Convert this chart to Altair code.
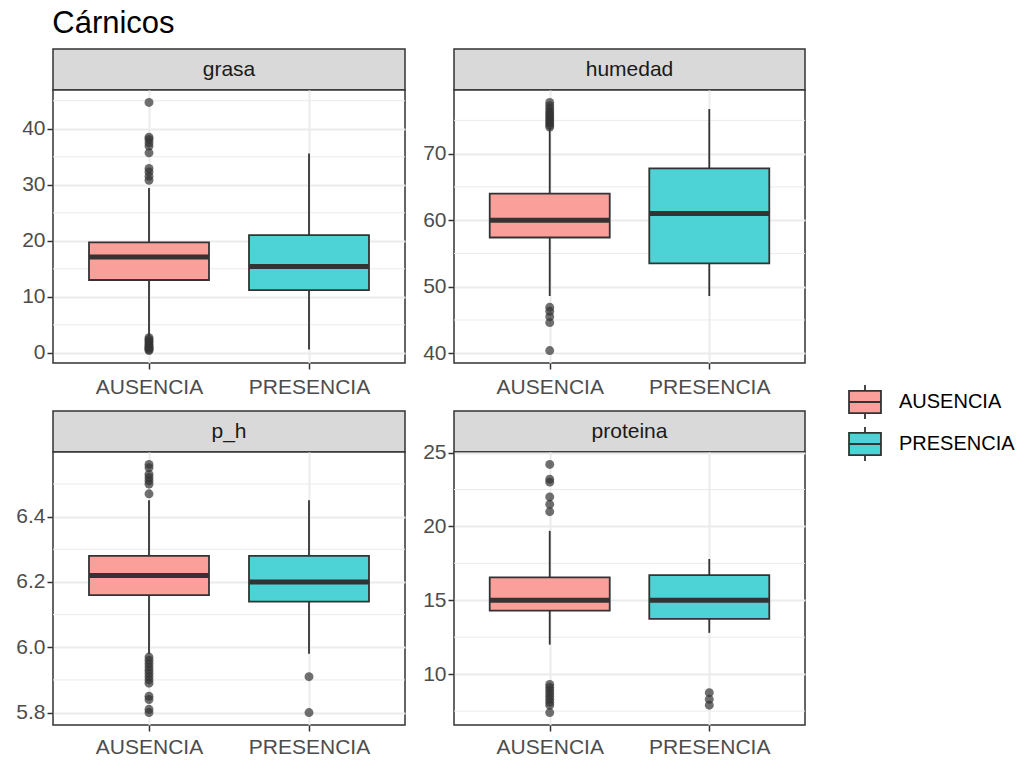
import altair as alt
import pandas as pd

FONT = "Liberation Sans"

variables = ["grasa", "humedad", "p_h", "proteina"]
groups = ["AUSENCIA", "PRESENCIA"]
fill_colors = ["#FA9F99", "#4DD2D6"]

# box statistics per variable: [AUSENCIA, PRESENCIA]
lower_whisker = {"grasa": [3.0, 0.6], "humedad": [48.6, 48.6], "p_h": [5.98, 5.98], "proteina": [12.0, 12.8]}
q1 = {"grasa": [13.0, 11.2], "humedad": [57.4, 53.5], "p_h": [6.16, 6.14], "proteina": [14.3, 13.75]}
median = {"grasa": [17.1, 15.4], "humedad": [60.0, 61.0], "p_h": [6.22, 6.20], "proteina": [15.0, 15.0]}
q3 = {"grasa": [19.7, 21.0], "humedad": [64.0, 67.8], "p_h": [6.28, 6.28], "proteina": [16.55, 16.7]}
upper_whisker = {"grasa": [29.4, 35.6], "humedad": [73.9, 76.7], "p_h": [6.45, 6.45], "proteina": [19.7, 17.8]}

outliers_aus = {
    "grasa": [30.8, 31.5, 32.3, 32.9, 35.7, 36.9, 37.5, 38.1, 38.5, 44.7,
              0.4, 0.6, 0.8, 1.0, 1.2, 1.5, 1.8, 2.1, 2.4, 2.7],
    "humedad": [74.0, 74.3, 74.6, 74.9, 75.2, 75.5, 75.8, 76.1, 76.4, 76.8, 77.2, 77.7,
                46.9, 46.3, 45.5, 44.6, 40.4],
    "p_h": [6.47, 6.50, 6.51, 6.52, 6.53, 6.55, 6.56,
            5.97, 5.96, 5.95, 5.94, 5.93, 5.92, 5.91, 5.90, 5.89, 5.85, 5.84, 5.81, 5.80],
    "proteina": [21.0, 21.5, 22.0, 23.0, 23.2, 24.2,
                 9.3, 9.1, 8.9, 8.7, 8.5, 8.3, 8.1, 7.9, 7.4],
}
outliers_pres = {
    "grasa": [],
    "humedad": [],
    "p_h": [5.91, 5.80],
    "proteina": [8.75, 8.3, 7.9],
}

y_major = {"grasa": [0, 10, 20, 30, 40], "humedad": [40, 50, 60, 70],
           "p_h": [5.8, 6.0, 6.2, 6.4], "proteina": [10, 15, 20, 25]}
y_minor = {"grasa": [5, 15, 25, 35, 45], "humedad": [45, 55, 65, 75],
           "p_h": [5.9, 6.1, 6.3, 6.5], "proteina": [7.5, 12.5, 17.5, 22.5]}
y_format = {"grasa": "d", "humedad": "d", "p_h": ".1f", "proteina": "d"}

PANEL_W = [352, 351]
PANEL_H = 273
STRIP_H = 41
BOX_W = 120

legend = alt.Legend(
    title=None, orient="none", legendX=794, legendY=335,
    symbolType="M-0.94,-0.65H0.94V0.65H-0.94Z M-0.94,0H0.94 M0,-0.65V-1 M0,0.65V1",
    symbolSize=1156, symbolStrokeColor="#333333", symbolStrokeWidth=1.8,
    labelFontSize=20, labelColor="#000000", labelFont=FONT,
    rowPadding=0, labelOffset=16,
)


def panel(v, w, legend_on, bottom_row):
    stats = pd.DataFrame({
        "grupo": groups,
        "lw": lower_whisker[v], "q1": q1[v], "med": median[v],
        "q3": q3[v], "uw": upper_whisker[v],
    })
    out = pd.DataFrame(
        [{"grupo": "AUSENCIA", "valor": x} for x in outliers_aus[v]]
        + [{"grupo": "PRESENCIA", "valor": x} for x in outliers_pres[v]]
    )
    allv = lower_whisker[v] + upper_whisker[v] + outliers_aus[v] + outliers_pres[v]
    lo, hi = min(allv), max(allv)
    pad = 0.05 * (hi - lo)
    ys = alt.Scale(domain=[lo - pad, hi + pad], nice=False, zero=False)
    yaxis = alt.Axis(values=y_major[v], format=y_format[v], title=None, grid=True,
                     minExtent=44, maxExtent=44)
    lp = 5 if bottom_row else 7
    ext = 32 if bottom_row else 34
    xenc = alt.X("grupo:N", scale=alt.Scale(type="point", domain=groups, padding=0.6),
                 axis=alt.Axis(title=None, labelAngle=0, grid=True, labelPadding=lp,
                               minExtent=ext, maxExtent=ext))

    minor = alt.Chart(pd.DataFrame({"m": y_minor[v]})).mark_rule(
        color="#EBEBEB", strokeWidth=1).encode(y=alt.Y("m:Q", scale=ys, axis=yaxis))
    whisk = alt.Chart(stats).mark_rule(color="#333333", strokeWidth=1.8).encode(
        x=xenc, y=alt.Y("lw:Q", scale=ys, axis=yaxis), y2="uw:Q")
    box = alt.Chart(stats).mark_bar(width=BOX_W, stroke="#333333", strokeWidth=1.8).encode(
        x=xenc, y=alt.Y("q1:Q", scale=ys, axis=yaxis), y2="q3:Q",
        fill=alt.Fill("grupo:N", scale=alt.Scale(domain=groups, range=fill_colors),
                      legend=legend if legend_on else None))
    med = alt.Chart(stats).mark_tick(orient="horizontal", size=BOX_W, thickness=5,
                                     color="#333333", opacity=1).encode(
        x=xenc, y=alt.Y("med:Q", scale=ys, axis=yaxis))
    layers = [minor, whisk, box, med]
    if len(out):
        pts = alt.Chart(out).mark_circle(size=80, color="#333333", opacity=0.7).encode(
            x=xenc, y=alt.Y("valor:Q", scale=ys, axis=yaxis))
        layers.append(pts)
    plot = alt.layer(*layers).properties(
        width=w, height=PANEL_H,
        view=alt.ViewBackground(fill="white", stroke="#333333", strokeWidth=1.5))

    strip = alt.Chart(pd.DataFrame({"panel": [v]})).mark_text(
        fontSize=21, color="#1A1A1A", font=FONT, baseline="middle").encode(
        text="panel:N", x=alt.value(w / 2), y=alt.value(STRIP_H / 2)).properties(
        width=w, height=STRIP_H,
        view=alt.ViewBackground(fill="#D9D9D9", stroke="#333333", strokeWidth=1.5))
    return alt.vconcat(strip, plot, spacing=0, bounds="flush")


p1 = panel("grasa", PANEL_W[0], True, False)
p2 = panel("humedad", PANEL_W[1], False, False)
p3 = panel("p_h", PANEL_W[0], False, True)
p4 = panel("proteina", PANEL_W[1], False, True)

chart = alt.vconcat(
    alt.hconcat(p1, p2, spacing=2),
    alt.hconcat(p3, p4, spacing=2),
    spacing=12,
).resolve_scale(fill="shared").properties(
    title=alt.TitleParams("Cárnicos", anchor="start", fontSize=31, font=FONT,
                          fontWeight="normal", color="#000000", offset=14, dx=44, dy=6),
    padding={"left": 0, "top": 0, "right": 0, "bottom": 0},
).configure_axis(
    labelFont=FONT, labelFontSize=21, labelColor="#4D4D4D",
    tickColor="#333333", tickSize=6, tickWidth=1.5, domain=False,
    gridColor="#EBEBEB", gridWidth=2,
)

chart.save("out.html", embed_options={"renderer": "svg", "actions": False})
